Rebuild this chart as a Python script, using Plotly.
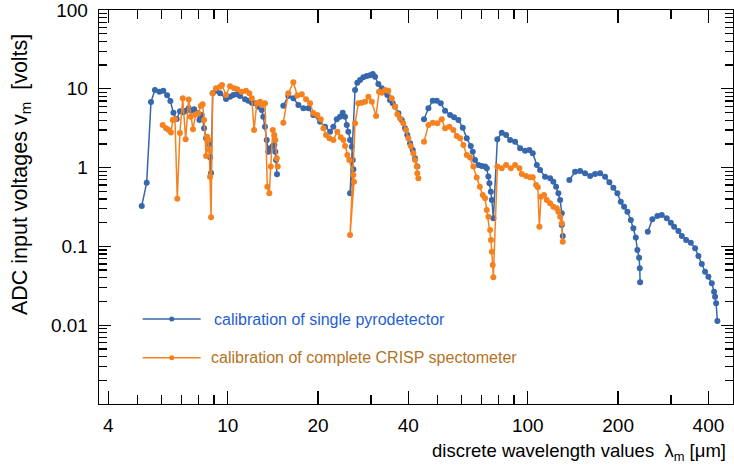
import plotly.graph_objects as go

# ---- data (wavelength in micrometres, ADC voltage in volts); None = gap between gratings ----
pyro_wavelength = [
    5.17, 5.37, 5.55, 5.72, 5.92, 6.10, 6.28, 6.44, 6.59, 6.76, 6.93, 7.11, 7.26, 7.41, 7.56, 7.73, 7.90, 8.05, 8.19, 8.34, 8.47, 8.65, 8.73, 8.80,
    8.91, 9.14, 9.43, 9.87, 10.18, 10.44, 10.72, 10.99, 11.42, 11.72, 12.03, 12.33, 12.65, 12.98, 13.14, 13.31, 13.49, 13.66, 13.84, 14.13, 14.30, 14.41, 14.49, 14.60,
    None,
    15.32, 15.92, 16.55, 17.20, 17.87, 18.57, 19.29, 20.31, 21.10, 21.93, 22.49, 23.09, 23.68, 24.17, 24.60, 24.93, 25.23, 25.57, 25.90, 26.11, 26.23, 25.57,
    26.57, 27.04, 27.61, 28.31, 29.06, 29.81, 30.43, 30.97, 31.77, 32.61, 33.45, 34.04, 34.75, 35.48, 36.13, 37.06, 38.02, 38.99, 39.68, 40.52, 41.37, 42.11, 42.85,
    None,
    45.1, 46.65, 48.24, 49.75, 51.29, 53.02, 55.1, 56.81, 58.71, 60.72, 62.62, 64.57, 65.57, 66.73, 68.44, 70.26, 72.07, 73.0, 73.9, 74.5, 75.3, 75.9, 76.8,
    79.2, 81.9, 84.7, 87.3, 90.7, 94.3, 97.95, 101.2, 103.9, 107.2, 109.9, 114.2, 118.7, 121.7, 124.3, 126.5, 128.2, 129.8, 129.8, 130.8,
    None,
    137.6, 143.8, 149.4, 155.2, 161.4, 167.6, 174.2, 181.0, 187.1, 192.9, 198.9, 204.2, 209.4, 214.8, 220.5, 224.9, 229.1, 231.9, 235.0, 236.2, 236.8,
    None,
    251.2, 260.2, 270.4, 279.7, 290.6, 299.8, 307.4, 317.7, 326.1, 337.1, 349.4, 361.2, 370.5, 380.2, 389.9, 399.9, 410.5, 417.8, 421.0, 424.3, 428.5,
]
pyro_voltage = [
    0.326, 0.644, 6.8, 9.66, 9.19, 9.46, 8.27, 7.0, 4.97, 4.14, 5.18, 5.03, 5.27, 5.66, 5.27, 5.50, 4.93, 4.02, 4.65, 3.15, 2.35, 1.99, 1.35, 0.854,
    8.77, 9.46, 8.77, 7.42, 7.94, 8.34, 8.51, 8.1, 7.36, 7.06, 6.66, 6.55, 5.93, 5.38, 4.43, 3.30, 2.24, 1.59, 1.76, 1.88, 1.94, 1.59, 1.25, 0.822,
    None,
    6.10, 8.1, 7.57, 6.23, 5.66, 5.66, 4.65, 3.82, 3.30, 2.86, 3.30, 4.10, 4.43, 4.97, 4.43, 3.47, 2.86, 2.24, 1.84, 1.25, 0.952, 0.472,
    9.66, 11.95, 12.93, 13.99, 14.54, 14.84, 15.41, 14.24, 11.5, 10.15, 9.19, 8.34, 7.21, 6.55, 5.93, 4.89, 4.02, 3.15, 2.59, 2.03, 1.67, 1.31, 1.03,
    None,
    4.10, 5.66, 7.06, 7.06, 6.55, 5.27, 4.65, 4.35, 4.02, 3.21, 2.35, 1.88, 1.59, 1.25, 1.08, 1.05, 1.03, 0.98, 0.77, 0.632, 0.494, 0.388, 0.227,
    2.29, 2.77, 2.59, 2.24, 2.13, 1.76, 1.64, 1.67, 1.52, 1.08, 0.932, 0.767, 0.732, 0.663, 0.573, 0.472, 0.388, 0.263, 0.187, 0.136,
    None,
    0.696, 0.887, 0.905, 0.847, 0.782, 0.83, 0.85, 0.767, 0.651, 0.556, 0.472, 0.368, 0.318, 0.275, 0.216, 0.170, 0.130, 0.090, 0.0719, 0.0527, 0.0350,
    None,
    0.1537, 0.2208, 0.243, 0.250, 0.227, 0.200, 0.178, 0.157, 0.1355, 0.121, 0.1114, 0.0946, 0.0755, 0.0598, 0.0477, 0.0412, 0.0340, 0.0266, 0.0230, 0.0190, 0.0113,
]

crisp_wavelength = [
    6.07, 6.23, 6.36, 6.47, 6.56, 6.67, 6.79, 6.93, 7.08, 7.24, 7.41, 7.53, 7.66, 7.82, 7.98, 8.13, 8.25, 8.34, 8.47, 8.55, 8.61, 8.68, 8.73, 8.80,
    8.91, 9.14, 9.43, 9.57, 9.87, 10.18, 10.50, 10.76, 11.13, 11.51, 11.80, 12.03, 12.24, 12.50, 12.82, 12.98, 13.31, 13.55, 13.76, 13.91, 14.13, 14.30, 14.41, 14.57, 14.68,
    None,
    15.32, 15.92, 16.55, 17.06, 17.65, 18.24, 18.81, 19.29, 19.89, 20.42, 20.84, 21.27, 21.82, 22.49, 23.19, 23.81, 24.29, 24.60, 25.05, 25.43, 26.23, 26.36, 25.57,
    26.57, 27.25, 27.97, 28.70, 29.43, 30.2, 31.22, 31.94, 32.61, 33.45, 34.29, 35.22, 36.13, 36.76, 37.52, 38.48, 39.29, 39.99, 40.74, 41.57, 42.11, 42.66, 42.85, 43.18,
    None,
    45.1, 46.65, 48.24, 49.98, 51.67, 53.02, 54.8, 56.5, 58.0, 59.5, 61.0, 62.62, 64.2, 65.87, 67.6, 69.2, 70.8, 72.07, 73.0, 73.9, 74.9, 75.4, 75.9, 76.4, 76.8,
    79.2, 81.9, 84.7, 87.8, 90.7, 93.8, 95.5, 98.7, 101.8, 103.9, 106.6, 108.0, 109.3, 110.7, 113.3, 115.7, 118.7, 121.7, 124.9, 126.5, 128.2, 129.8, 130.8,
]
crisp_voltage = [
    3.47, 3.15, 3.0, 2.79, 4.02, 4.14, 0.402, 2.75, 7.57, 2.29, 7.29, 4.43, 3.06, 4.72, 4.89, 6.05, 6.36, 4.02, 1.40, 2.47, 2.24, 1.67, 0.766, 0.234,
    8.77, 10.15, 10.63, 11.17, 8.34, 10.76, 10.15, 9.86, 9.19, 9.46, 8.77, 7.57, 3.0, 6.55, 6.86, 6.23, 6.55, 0.572, 0.472, 1.03, 3.0, 2.59, 2.24, 1.31, 1.03,
    None,
    3.72, 8.77, 12.13, 8.22, 8.51, 7.36, 6.55, 4.93, 4.65, 4.10, 3.15, 2.59, 2.35, 2.24, 2.86, 2.42, 2.24, 1.88, 1.45, 1.25, 0.806, 0.662, 0.140,
    3.65, 6.55, 6.66, 6.86, 7.94, 6.86, 4.52, 9.19, 8.92, 9.66, 9.46, 7.57, 5.93, 4.75, 4.22, 3.65, 3.0, 2.35, 1.88, 1.52, 1.25, 1.03, 0.85, 0.73,
    None,
    2.13, 3.47, 3.72, 3.65, 4.10, 3.15, 3.30, 3.0, 2.52, 2.35, 1.94, 1.45, 1.34, 1.03, 0.749, 0.572, 0.449, 0.408, 0.290, 0.238, 0.161, 0.121, 0.0856, 0.0581, 0.0405,
    1.03, 0.98, 1.08, 0.98, 1.08, 0.98, 0.83, 0.782, 0.753, 0.753, 0.601, 0.562, 0.178, 0.427, 0.449, 0.388, 0.352, 0.319, 0.304, 0.276, 0.238, 0.196, 0.1147,
]

x_tick_vals = [4, 10, 20, 40, 100, 200, 400]
x_tick_text = ["4", "10", "20", "40", "100", "200", "400"]
x_minor_vals = [5, 6, 7, 8, 9, 30, 50, 60, 70, 80, 90, 300]
y_tick_vals = [0.01, 0.1, 1, 10, 100]
y_tick_text = ["0.01", "0.1", "1", "10", "100"]
y_minor_vals = [m * 10.0 ** e for e in range(-3, 2) for m in range(2, 10)]

series_names = ["calibration of single pyrodetector", "calibration of complete CRISP spectometer"]

BLUE = "#3767ad"
ORANGE = "#f5821f"
BLUE_TXT = "#1f5fd2"
ORANGE_TXT = "#b4731f"
FONT = "Liberation Sans, Arial, Helvetica, sans-serif"

fig = go.Figure()
fig.add_trace(go.Scatter(x=pyro_wavelength, y=pyro_voltage, mode="lines+markers",
                         line=dict(color=BLUE, width=1.5), marker=dict(color=BLUE, size=6),
                         connectgaps=False, name=series_names[0], showlegend=False))
fig.add_trace(go.Scatter(x=crisp_wavelength, y=crisp_voltage, mode="lines+markers",
                         line=dict(color=ORANGE, width=1.5), marker=dict(color=ORANGE, size=6),
                         connectgaps=False, name=series_names[1], showlegend=False))

axis_common = dict(type="log", showline=True, linecolor="black", linewidth=1.3, mirror="allticks",
                   ticks="inside", tickcolor="black", tickwidth=1.3, showgrid=False, zeroline=False,
                   ticklabeloverflow="allow",
                   tickfont=dict(family=FONT, size=19, color="black"))

fig.update_xaxes(**axis_common, range=[0.571, 2.684], tickmode="array", tickvals=x_tick_vals,
                 ticktext=x_tick_text, ticklen=13, ticklabelstandoff=4,
                 minor=dict(tickmode="array", tickvals=x_minor_vals, ticks="inside", ticklen=9,
                            tickwidth=1.3, tickcolor="black", showgrid=False))
fig.update_yaxes(**axis_common, range=[-3, 2], tickmode="array", tickvals=y_tick_vals,
                 ticktext=y_tick_text, ticklen=12, ticklabelstandoff=6,
                 minor=dict(tickmode="array", tickvals=y_minor_vals, ticks="inside", ticklen=8,
                            tickwidth=1.3, tickcolor="black", showgrid=False))

NB = "\u00a0"
annotations = [
    dict(text="ADC input voltages v<sub>m</sub>" + NB * 2 + "[volts]", xref="paper", yref="paper",
         x=-0.123, y=0.581, xanchor="center", yanchor="middle", textangle=-90, showarrow=False,
         font=dict(family=FONT, size=21.5, color="black")),
    dict(text="discrete wavelength values" + NB * 2 + "λ<sub>m</sub> [μm]", xref="paper", yref="paper",
         x=0.992, y=-0.122, xanchor="right", yanchor="middle", showarrow=False,
         font=dict(family=FONT, size=18.5, color="black")),
    dict(text=series_names[0], xref="paper", yref="paper", x=0.178, y=0.2157,
         xanchor="left", yanchor="middle", showarrow=False,
         font=dict(family=FONT, size=16, color=BLUE_TXT)),
    dict(text=series_names[1], xref="paper", yref="paper", x=0.1735, y=0.1175,
         xanchor="left", yanchor="middle", showarrow=False,
         font=dict(family=FONT, size=16, color=ORANGE_TXT)),
]

shapes = []
for yy, col in [(0.2157, BLUE), (0.1175, ORANGE)]:
    shapes.append(dict(type="line", xref="paper", yref="paper", x0=0.0689, x1=0.1604, y0=yy, y1=yy,
                       line=dict(color=col, width=1.5)))
    shapes.append(dict(type="circle", xref="paper", yref="paper", xsizemode="pixel", ysizemode="pixel",
                       xanchor=0.1147, yanchor=yy, x0=-2.5, x1=2.5, y0=-2.5, y1=2.5,
                       fillcolor=col, line=dict(color=col, width=0)))

fig.update_layout(width=734, height=470, margin=dict(l=99, r=1, t=10, b=66),
                  paper_bgcolor="white", plot_bgcolor="white", showlegend=False,
                  annotations=annotations, shapes=shapes,
                  font=dict(family=FONT, color="black"))

fig.write_html("out.html", config={"displayModeBar": False, "staticPlot": True},
               post_script="document.body.style.margin='0px'; document.body.style.overflow='hidden';")
